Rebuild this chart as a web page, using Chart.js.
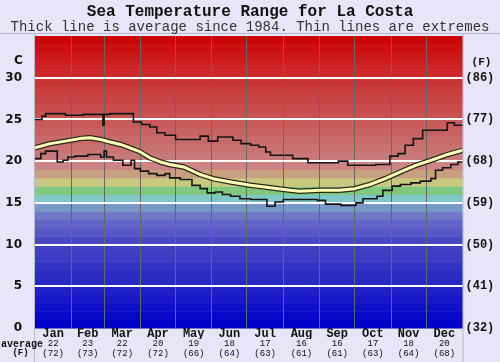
<!DOCTYPE html>
<html>
<head>
<meta charset="utf-8">
<script src="https://cdn.jsdelivr.net/npm/chart.js@4.4.1/dist/chart.umd.min.js"></script>
<style>
  html, body { margin: 0; padding: 0; background: #e6e6f8; }
  #c { display: block; }
</style>
</head>
<body>
<canvas id="c" width="500" height="362"></canvas>
<script>
// ---------- DATA ----------
const monthNames = ['Jan','Feb','Mar','Apr','May','Jun','Jul','Aug','Sep','Oct','Nov','Dec'];
const avgC = [22,23,22,20,19,18,17,16,16,17,18,20];
const avgF = [72,73,72,72,66,64,63,61,61,63,64,68];
const monthStarts = [0,31,59,90,120,151,181,212,243,273,304,334,365];
const yTicksC = [0,5,10,15,20,25,30];

// upper extreme (day of year, deg C); each value holds until the next day listed
const maxDays = [0,6,9,26,41,58,59,64,84,91,98,104,111,120,141,148,156,169,176,184,191,197,201,220,233,259,267,291,303,310,316,323,331,352,358,365];
const maxVals = [25.0,25.4,25.7,25.5,25.6,24.3,25.6,25.7,24.7,24.4,24.1,23.4,23.1,22.6,23.0,22.4,22.9,22.5,22.1,21.9,21.7,21.1,20.7,20.3,19.8,20.0,19.5,19.6,20.6,20.9,21.9,22.7,23.7,24.6,24.3,24.3];

// average since 1984
const avgDays = [0,13,26,38,47,56,64,73,81,90,98,107,115,127,141,152,167,184,201,218,226,243,260,273,286,299,312,325,338,350,365];
const avgVals = [21.6,22.1,22.4,22.7,22.8,22.6,22.3,22.0,21.6,21.1,20.4,19.9,19.6,19.3,18.4,17.9,17.5,17.1,16.8,16.5,16.4,16.5,16.5,16.7,17.2,17.9,18.7,19.5,20.1,20.7,21.3];

// lower extreme
const minDays = [0,5,9,19,24,28,34,45,56,59,61,67,75,82,85,90,97,104,111,115,124,134,141,147,154,160,167,175,184,198,205,212,241,248,261,274,280,292,297,305,312,321,329,338,342,348,355,361,365];
const minVals = [20.3,20.9,21.2,19.9,20.1,20.5,20.6,20.8,20.5,21.2,20.5,20.1,19.5,20.1,19.1,18.8,18.5,18.3,18.5,18.0,17.8,17.1,16.7,16.2,16.3,16.0,15.8,15.5,15.4,14.6,15.1,15.4,15.3,14.85,14.7,15.0,15.5,15.8,16.5,17.0,17.2,17.4,17.6,17.9,18.9,19.2,19.6,19.9,19.9];

const zip = (xs, ys) => xs.map((x, i) => ({ x: x, y: ys[i] }));
const monthMids = monthNames.map((m, i) => (monthStarts[i] + monthStarts[i + 1]) / 2);

// ---------- STYLE ----------
const bandColors = [
  '#0000c8','#0808c8','#1010c8','#1818c8','#2020c8',
  '#2828c4','#2c2cc4','#3434c4','#3c3cc4','#4040c4',
  '#4848c4','#5858c8','#6464c8','#7078c8','#7898c8',
  '#80c8c8','#80c880','#c8c880','#c8a080','#cc8484',
  '#c87a7a','#c87272','#c86a6a','#c86262','#c85a5a',
  '#c85252','#c84a4a','#c84444','#c83c3c','#c83434',
  '#cc2a2a','#cc2222','#cc1a1a','#cc1010','#cc0606'
];
const mono = 'Liberation Mono, Courier New, monospace';
const sans = 'DejaVu Sans, Verdana, sans-serif';

const bgPlugin = {
  id: 'bg',
  beforeDraw(chart) {
    const ctx = chart.ctx, a = chart.chartArea, y = chart.scales.y;
    ctx.save();
    ctx.fillStyle = '#e6e6f8';
    ctx.fillRect(0, 0, chart.width, chart.height);
    ctx.strokeStyle = '#b8b8cc';
    ctx.lineWidth = 1;
    ctx.beginPath();
    ctx.moveTo(0, a.top - 2.5); ctx.lineTo(chart.width, a.top - 2.5);
    ctx.moveTo(a.left - 0.5, a.top - 2.5); ctx.lineTo(a.left - 0.5, chart.height);
    ctx.moveTo(a.right + 0.5, a.top - 2.5); ctx.lineTo(a.right + 0.5, chart.height);
    ctx.stroke();
    for (let i = 0; i < bandColors.length; i++) {
      const y0 = y.getPixelForValue(i), y1 = y.getPixelForValue(i + 1);
      ctx.fillStyle = bandColors[i];
      ctx.fillRect(a.left, y1, a.right - a.left, y0 - y1 + 0.5);
    }
    ctx.restore();
  },
  afterDraw(chart) {
    const ctx = chart.ctx;
    ctx.save();
    ctx.fillStyle = '#111';
    ctx.textBaseline = 'middle';
    ctx.textAlign = 'center';
    ctx.font = 'bold 12px ' + sans;
    ctx.fillText('C', 18.5, 61);
    ctx.font = 'bold 11px ' + mono;
    ctx.fillText('(F)', 481.5, 62);
    ctx.font = 'bold 10px ' + mono;
    ctx.fillText('average', 22, 344);
    ctx.font = 'bold 9px ' + mono;
    ctx.fillText('(F)', 20.5, 353);
    ctx.restore();
  }
};

const setTicks = (vals) => (s) => { s.ticks = vals.map(v => ({ value: v })); };

const bottomAxis = (weight, height, labelFn, font) => ({
  type: 'linear', min: 0, max: 365, position: 'bottom', weight: weight,
  afterBuildTicks: setTicks(monthMids),
  afterFit: (s) => { s.height = height; },
  grid: { display: false, drawTicks: false },
  border: { display: false },
  ticks: {
    autoSkip: false, maxRotation: 0, padding: 0, color: '#111', font: font,
    callback: (v, i) => labelFn(i)
  }
});

new Chart(document.getElementById('c'), {
  type: 'line',
  data: {
    datasets: [
      // lower index is drawn on top
      { data: zip(avgDays, avgVals), borderColor: '#ffffb8', borderWidth: 3, pointRadius: 0, fill: false, tension: 0, borderJoinStyle: 'round' },
      { data: zip(avgDays, avgVals), borderColor: '#2a2a1a', borderWidth: 5.5, pointRadius: 0, fill: false, tension: 0, borderJoinStyle: 'round' },
      { data: zip(maxDays, maxVals), borderColor: '#141414', borderWidth: 1.6, stepped: 'before', pointRadius: 0, fill: false },
      { data: zip(minDays, minVals), borderColor: '#141414', borderWidth: 1.6, stepped: 'before', pointRadius: 0, fill: false }
    ]
  },
  options: {
    responsive: false,
    animation: false,
    devicePixelRatio: 1,
    layout: { padding: 0 },
    plugins: {
      legend: { display: false },
      tooltip: { enabled: false },
      title: {
        display: true, text: 'Sea Temperature Range for La Costa', color: '#111',
        font: { family: mono, size: 16, weight: 'bold', lineHeight: 1 },
        padding: { top: 4, bottom: 0 }
      },
      subtitle: {
        display: true, text: 'Thick line is average since 1984. Thin lines are extremes', color: '#333',
        font: { family: mono, size: 14, weight: 'normal', lineHeight: 1 },
        padding: { top: 0, bottom: 2 }
      }
    },
    scales: {
      x: {
        type: 'linear', min: 0, max: 365, position: 'bottom', weight: 0,
        afterBuildTicks: setTicks(monthStarts.slice(1, 12)),
        afterFit: (s) => { s.height = 0; },
        ticks: { display: false },
        grid: { color: '#666666', lineWidth: 1, drawTicks: false },
        border: { display: false }
      },
      xm: bottomAxis(1, 11, i => monthNames[i], { family: mono, size: 12, weight: 'bold', lineHeight: 1 }),
      xc: bottomAxis(2, 10, i => String(avgC[i]), { family: mono, size: 9, weight: 'normal', lineHeight: 1 }),
      xf: bottomAxis(3, 13, i => '(' + avgF[i] + ')', { family: mono, size: 9, weight: 'normal', lineHeight: 1 }),
      y: {
        type: 'linear', min: 0, max: 35, position: 'left',
        afterBuildTicks: setTicks(yTicksC),
        afterFit: (s) => { s.width = 35; },
        ticks: { color: '#111', padding: 13, font: { family: sans, size: 12, weight: 'bold' } },
        grid: { color: (c) => c.tick && c.tick.value === 0 ? 'rgba(0,0,0,0)' : '#ffffff', lineWidth: 2, drawTicks: false },
        border: { display: false }
      },
      y2: {
        type: 'linear', min: 0, max: 35, position: 'right',
        afterBuildTicks: setTicks(yTicksC),
        afterFit: (s) => { s.width = 37.5; },
        ticks: { color: '#111', padding: 3, font: { family: mono, size: 12, weight: 'bold' },
                 callback: (v) => '(' + Math.round(v * 9 / 5 + 32) + ')' },
        grid: { display: false, drawTicks: false },
        border: { display: false }
      }
    }
  },
  plugins: [bgPlugin]
});
</script>
</body>
</html>
